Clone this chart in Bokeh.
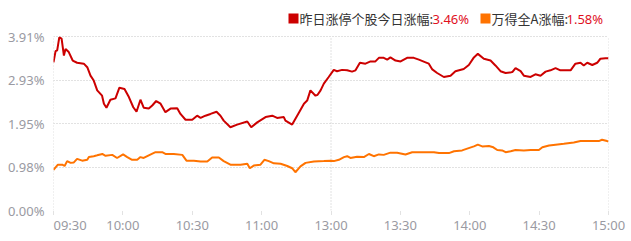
from bokeh.plotting import figure
from bokeh.models import Range1d, FixedTicker, Label, BoxAnnotation
from bokeh.embed import file_html
from bokeh.resources import INLINE

# ---- data (minutes since 09:30, lunch break removed; value in %) ----
red_min = [0, 0.9, 1.6, 2.5, 3.5, 4.5, 5.2, 6.6, 8.3, 10.2, 13.1, 14.6, 16, 17.4, 18.9, 20.3, 21,
           21.8, 22.9, 24.6, 26.8, 28.5, 30.7, 32.6, 34.5, 35.9, 37.6, 39, 41.2, 42.7, 44.4, 46.3,
           48.4, 50.6, 53.5, 54.9, 57.1, 60, 62.1, 63.6, 65.7, 67.9, 70.5, 72.2, 73.6, 76.5, 79.4,
           83.8, 85.5, 88.1, 91.7, 94.6, 96.7, 99.6, 100.3, 103.2, 105.8, 108.3, 109.7, 111.1,
           113.3, 114.2, 115.5, 116.9, 119, 121.2, 122.6, 124.8, 127, 129.1, 130.6, 132.5, 134.9,
           137.1, 139.2, 140.7, 142.8, 144.3, 145.7, 147.9, 150.1, 152.9, 155.8, 158, 160.9, 162.3,
           163.8, 165.9, 168.8, 171.7, 173.8, 177.4, 179.6, 181.8, 183.5, 186.1, 189, 191.1, 193.3,
           195.5, 198.4, 199.8, 202, 203.4, 206.3, 208.4, 210.6, 212.8, 214.9, 217.1, 219.2, 223.6,
           225.7, 227.9, 229.3, 230.8, 233, 235.1, 236.5, 238.7, 240]
red_val = [3.33, 3.58, 3.60, 3.89, 3.86, 3.48, 3.63, 3.56, 3.37, 3.32, 3.30, 3.22, 3.03, 2.92, 2.70,
           2.62, 2.58, 2.40, 2.31, 2.49, 2.52, 2.76, 2.73, 2.55, 2.32, 2.22, 2.49, 2.31, 2.29, 2.36,
           2.46, 2.40, 2.21, 2.29, 2.30, 2.17, 2.04, 2.04, 2.13, 2.08, 2.13, 2.17, 2.22, 2.13, 2.02,
           1.87, 1.93, 2.00, 1.87, 1.98, 2.10, 2.13, 2.08, 2.10, 2.02, 1.93, 2.17, 2.40, 2.47, 2.70,
           2.58, 2.60, 2.70, 2.85, 3.00, 3.16, 3.13, 3.16, 3.15, 3.12, 3.15, 3.32, 3.30, 3.35, 3.35,
           3.43, 3.43, 3.39, 3.44, 3.37, 3.35, 3.43, 3.43, 3.39, 3.33, 3.30, 3.17, 3.09, 3.00, 3.03,
           3.13, 3.18, 3.27, 3.44, 3.52, 3.41, 3.37, 3.26, 3.13, 3.09, 3.11, 3.20, 3.13, 3.03, 3.00,
           3.06, 3.03, 3.12, 3.15, 3.20, 3.15, 3.15, 3.30, 3.32, 3.26, 3.32, 3.27, 3.32, 3.41, 3.42,
           3.42]

orange_min = [0, 0.9, 1.9, 3.8, 4.8, 5.9, 7.4, 8.8, 10.2, 12.4, 14.6, 15.3, 17.4, 18.9, 21.1, 22.5,
              25.4, 27.5, 30.1, 31.9, 34, 36.2, 37.6, 39, 41.2, 44.1, 47, 48.4, 52, 55.7, 57.5,
              60.7, 63.6, 66.5, 68.6, 71.5, 73.6, 76.5, 80.9, 83.8, 84.9, 86.6, 89.5, 91.2, 93.1,
              95.3, 98.2, 101.1, 103.2, 104.6, 106.8, 109, 112.6, 116.9, 119.8, 121.2, 123.4,
              125.6, 127, 128.4, 131.3, 134.2, 136.4, 138.5, 140.7, 142.8, 145.7, 148.6, 152.2,
              155.1, 164.5, 166.7, 171, 173.2, 176.7, 178.9, 181.8, 183.5, 185.4, 188.3, 190.2,
              191.9, 194, 195.5, 197.7, 199.8, 203.4, 206.3, 209.9, 211.4, 214.3, 217.1, 220.7,
              225, 227.9, 235.8, 237.2, 239.4, 240]
orange_val = [0.91, 0.97, 1.03, 1.03, 1.00, 1.11, 1.07, 1.08, 1.16, 1.12, 1.14, 1.20, 1.22, 1.24,
              1.27, 1.23, 1.25, 1.18, 1.26, 1.20, 1.14, 1.14, 1.20, 1.18, 1.24, 1.31, 1.31, 1.27,
              1.27, 1.25, 1.12, 1.12, 1.10, 1.10, 1.19, 1.19, 1.11, 1.03, 1.03, 1.05, 0.95, 1.01,
              1.03, 1.14, 1.11, 1.06, 1.05, 1.00, 0.95, 0.86, 0.99, 1.07, 1.10, 1.11, 1.12, 1.11,
              1.14, 1.20, 1.22, 1.18, 1.21, 1.20, 1.27, 1.22, 1.26, 1.25, 1.30, 1.30, 1.26, 1.31,
              1.31, 1.29, 1.29, 1.33, 1.35, 1.39, 1.44, 1.48, 1.44, 1.45, 1.42, 1.36, 1.35, 1.31,
              1.33, 1.36, 1.35, 1.36, 1.36, 1.42, 1.46, 1.48, 1.50, 1.53, 1.56, 1.56, 1.59, 1.56,
              1.55]

x_ticks = [0, 30, 60, 90, 120, 150, 180, 210, 240]
x_labels = ["09:30", "10:00", "10:30", "11:00", "13:00", "13:30", "14:00", "14:30", "15:00"]
x_grid = [0, 120, 240]
y_ticks = [0.0, 0.9775, 1.955, 2.9325, 3.91]
y_labels = ["0.00%", "0.98%", "1.95%", "2.93%", "3.91%"]

legend_names = ["昨日涨停个股今日涨幅:", "万得全A涨幅:"]
legend_values = ["3.46%", "1.58%"]

RED = "#cc0000"
ORANGE = "#ff7300"
GRID = "#c4c4c4"
LABEL = "#9a9aa2"
FONT = "Noto Sans"
CJK = "Noto Sans CJK SC"

W, H = 631, 241
FRAME_L, FRAME_R, FRAME_B = 53, 608, 210
TOP_PX = 36                      # pixel row of the top tick (3.91%)
y_top = y_ticks[-1] * FRAME_B / (FRAME_B - TOP_PX)   # frame extends to canvas top (room for legend)

p = figure(width=W, height=H, output_backend="svg", toolbar_location=None,
           x_range=Range1d(x_ticks[0], x_ticks[-1]), y_range=Range1d(0, y_top),
           min_border_left=FRAME_L, min_border_right=W - FRAME_R, min_border_top=0,
           min_border_bottom=H - FRAME_B)
p.outline_line_color = None
p.background_fill_color = "white"
p.border_fill_color = "white"

# vertical dotted grid lines (09:30, 13:00, 15:00), only up to the top tick
p.segment(x0=x_grid, y0=[y_ticks[0]] * 3, x1=x_grid, y1=[y_ticks[-1]] * 3,
          line_color=GRID, line_dash="1 2", line_width=1)
p.xgrid.grid_line_color = None
p.ygrid.grid_line_color = GRID
p.ygrid.grid_line_dash = "1 2"

p.line(red_min, red_val, line_color=RED, line_width=2)
p.line(orange_min, orange_val, line_color=ORANGE, line_width=2)

# axes
p.xaxis.ticker = FixedTicker(ticks=x_ticks)
# first label sits to the right of its tick (left aligned); padded with figure spaces
lbl = {t: l for t, l in zip(x_ticks, x_labels)}
lbl[x_ticks[0]] = "\u2007\u2007\u2007\u2007\u2008" + x_labels[0]
p.xaxis.major_label_overrides = lbl
p.yaxis.ticker = FixedTicker(ticks=y_ticks)
p.yaxis.major_label_overrides = dict(zip(y_ticks, y_labels))
for ax in (p.xaxis, p.yaxis):
    ax.axis_line_color = None
    ax.minor_tick_line_color = None
    ax.major_label_text_color = LABEL
    ax.major_label_text_font = FONT
    ax.major_label_text_font_size = "13px"
p.yaxis.major_tick_line_color = None
p.yaxis.major_label_standoff = 3
p.xaxis.major_tick_in = 0
p.xaxis.major_tick_out = 4
p.xaxis.major_tick_line_color = GRID
p.xaxis.major_tick_line_dash = "1 1"
p.xaxis.major_label_standoff = 1

# legend (top right); screen units measured from the frame's bottom-left corner
for lx, col in [(288, RED), (480, ORANGE)]:
    p.add_layout(BoxAnnotation(left=lx - FRAME_L, right=lx + 10 - FRAME_L,
                               top=FRAME_B - 13, bottom=FRAME_B - 23,
                               left_units="screen", right_units="screen", top_units="screen",
                               bottom_units="screen", fill_color=col, fill_alpha=1,
                               line_color=None))
for xx, txt, col, fnt in [(299, legend_names[0], "#333333", CJK),
                          (432, legend_values[0], "#e0101e", FONT),
                          (491, legend_names[1], "#333333", CJK),
                          (566, legend_values[1], "#e0101e", FONT)]:
    p.add_layout(Label(x=xx - FRAME_L, y=FRAME_B - 18, x_units="screen", y_units="screen", text=txt,
                       text_align="left", text_baseline="middle", text_color=col,
                       text_font=fnt, text_font_size="13px"))

open("out.html", "w").write(file_html(p, INLINE))
